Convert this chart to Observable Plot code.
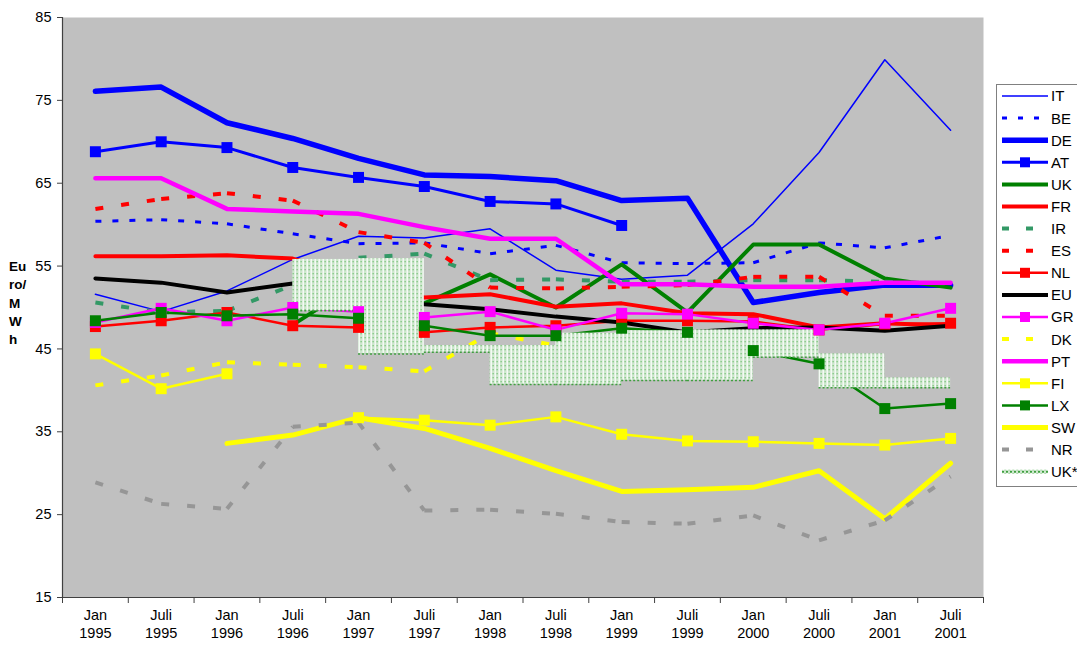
<!DOCTYPE html>
<html>
<head>
<meta charset="utf-8">
<script src="https://cdn.jsdelivr.net/npm/d3@7"></script>
<script src="https://cdn.jsdelivr.net/npm/@observablehq/plot@0.6"></script>
<style>
  body { margin: 0; background: #fff; }
  #chart { width: 1077px; height: 646px; font-family: "Liberation Sans", Arial, sans-serif; }
</style>
</head>
<body>
<div id="chart"></div>
<script>
// Half-yearly electricity prices, Euro/MWh
const categories = ["Jan 1995", "Juli 1995", "Jan 1996", "Juli 1996", "Jan 1997", "Juli 1997", "Jan 1998",
                    "Juli 1998", "Jan 1999", "Juli 1999", "Jan 2000", "Juli 2000", "Jan 2001", "Juli 2001"];
const yTicks = [15, 25, 35, 45, 55, 65, 75, 85];

const IT = [51.6, 49.5, 52.0, 55.8, 58.6, 58.4, 59.5, 54.5, 53.4, 53.9, 60.1, 68.7, 79.9, 71.4];
const BE = [60.4, 60.6, 60.1, 58.9, 57.7, 57.8, 56.5, 57.5, 55.4, 55.3, 55.4, 57.8, 57.2, 58.7];
const DE = [76.1, 76.6, 72.3, 70.4, 68.0, 66.0, 65.8, 65.3, 62.9, 63.2, 50.6, 51.8, 52.7, 52.7];
const AT = [68.8, 70.0, 69.3, 66.9, 65.7, 64.6, 62.8, 62.5, 59.9, null, null, null, null, null];
const UK = [null, null, null, 47.9, 53.0, 50.5, 54.0, 50.0, 55.2, 49.4, 57.6, 57.6, 53.5, 52.4];
const FR = [56.2, 56.2, 56.3, 55.9, 53.5, 51.2, 51.6, 50.1, 50.5, 49.3, 49.2, 47.6, 48.1, 47.8];
const IR = [50.6, 49.4, 49.6, 52.7, 56.0, 56.5, 53.3, 53.4, 53.1, 53.1, 53.3, 53.3, 53.1, 52.9];
const ES = [61.9, 63.1, 63.8, 62.9, 59.1, 57.8, 52.4, 52.3, 52.5, 52.7, 53.7, 53.7, 49.0, 49.0];
const NL = [47.7, 48.4, 49.4, 47.8, 47.6, 47.0, 47.6, 47.8, 48.4, 48.4, 48.3, 47.3, 48.0, 48.1];
const EU = [53.5, 53.0, 51.8, 52.9, 51.5, 50.4, 49.8, 48.9, 48.2, 47.0, 47.5, 47.6, 47.2, 47.8];
const GR = [48.2, 49.9, 48.4, 50.0, 49.5, 48.8, 49.5, 47.3, 49.3, 49.2, 48.1, 47.3, 48.1, 49.9];
const DK = [40.6, 41.8, 43.4, 43.1, 42.8, 42.3, 46.9, 45.4, null, null, null, null, null, null];
const PT = [65.6, 65.6, 61.9, 61.6, 61.3, 59.7, 58.3, 58.3, 52.8, 52.8, 52.5, 52.5, 53.0, 53.0];
const FI = [44.4, 40.2, 42.0, null, 36.7, 36.4, 35.8, 36.8, 34.7, 33.9, 33.8, 33.6, 33.4, 34.2];
const LX = [48.4, 49.4, 49.0, 49.2, 48.7, 47.8, 46.6, 46.6, 47.5, 47.0, 44.8, 43.2, 37.8, 38.4];
const SW = [null, null, 33.6, 34.6, 36.7, 35.4, 33.0, 30.3, 27.8, 28.0, 28.3, 30.3, 24.5, 31.2];
const NR = [28.9, 26.3, 25.7, 35.6, 36.1, 25.5, 25.6, 25.1, 24.1, 23.9, 24.9, 21.9, 24.3, 29.6];

// UK* band: each period runs from one half-year to the next
const ukStarPeriod = ["Juli 1996", "Jan 1997", "Juli 1997", "Jan 1998", "Juli 1998",
                      "Jan 1999", "Juli 1999", "Jan 2000", "Juli 2000", "Jan 2001"];
const ukStarHigh = [55.8, 55.9, 45.4, 45.4, 46.9, 47.2, 47.3, 47.3, 44.4, 41.5];
const ukStarLow  = [49.6, 44.4, 44.6, 40.7, 40.7, 41.2, 41.2, 44.0, 40.3, 40.3];

// Drawing style per series (legend order)
const seriesStyle = [
  {name: "IT", values: IT, color: "#0000FF", width: 1.5},
  {name: "BE", values: BE, color: "#0000FF", width: 3, dash: "6,11"},
  {name: "DE", values: DE, color: "#0000FF", width: 5.5},
  {name: "AT", values: AT, color: "#0000FF", width: 3, marker: true},
  {name: "UK", values: UK, color: "#008000", width: 4},
  {name: "FR", values: FR, color: "#FF0000", width: 4},
  {name: "IR", values: IR, color: "#339966", width: 4, dash: "8,18"},
  {name: "ES", values: ES, color: "#FF0000", width: 4, dash: "8,18"},
  {name: "NL", values: NL, color: "#FF0000", width: 2.5, marker: true},
  {name: "EU", values: EU, color: "#000000", width: 4},
  {name: "GR", values: GR, color: "#FF00FF", width: 2.5, marker: true},
  {name: "DK", values: DK, color: "#FFFF00", width: 4, dash: "8,18"},
  {name: "PT", values: PT, color: "#FF00FF", width: 4.5},
  {name: "FI", values: FI, color: "#FFFF00", width: 2.5, marker: true},
  {name: "LX", values: LX, color: "#008000", width: 2.5, marker: true},
  {name: "SW", values: SW, color: "#FFFF00", width: 5},
  {name: "NR", values: NR, color: "#969696", width: 4, dash: "8,18"}
];

const rowsOf = (s) => s.values.map((v, i) => ({i, v}));
const segmentsOf = (s) => {
  const segs = [];
  for (let i = 0; i + 1 < s.values.length; i++) {
    if (s.values[i] != null && s.values[i + 1] != null)
      segs.push({i1: i, v1: s.values[i], i2: i + 1, v2: s.values[i + 1]});
  }
  return segs;
};

const lineMarks = seriesStyle.map((s) => s.dash
  ? Plot.link(segmentsOf(s), {x1: "i1", y1: "v1", x2: "i2", y2: "v2", stroke: s.color,
      strokeWidth: s.width, strokeDasharray: s.dash, strokeLinecap: "butt"})
  : Plot.line(rowsOf(s), {x: "i", y: "v", stroke: s.color, strokeWidth: s.width, strokeLinejoin: "round"}));

const markerMarks = seriesStyle.filter((s) => s.marker).map((s) =>
  Plot.dot(rowsOf(s).filter((d) => d.v != null), {x: "i", y: "v", symbol: "square", r: 6.2, fill: s.color, stroke: null}));

const ukStarRows = ukStarPeriod.map((p, k) => {
  const i = categories.indexOf(p);
  return {i, i2: i + 1, high: ukStarHigh[k], low: ukStarLow[k]};
});

const svg = Plot.plot({
  width: 1077,
  height: 646,
  marginLeft: 62,
  marginRight: 94,
  marginTop: 17,
  marginBottom: 49,
  style: {fontFamily: "'Liberation Sans', Arial, sans-serif", fontSize: "14px", background: "white", color: "black"},
  x: {type: "linear", domain: [-0.5, categories.length - 0.5]},
  y: {domain: [15, 85]},
  marks: [
    Plot.frame({fill: "#C0C0C0", stroke: null}),
    ...lineMarks,
    Plot.rect(ukStarRows, {x1: "i", x2: "i2", y1: "low", y2: "high", fill: "url(#ukstar)"}),
    Plot.ruleY(ukStarRows, {y: "low", x1: "i", x2: "i2", stroke: "#3f9f3f", strokeWidth: 1.5, strokeDasharray: "2,2"}),
    ...markerMarks,
    Plot.ruleX([-0.5], {stroke: "#404040", strokeWidth: 1.2}),
    Plot.ruleY([15], {stroke: "#404040", strokeWidth: 1.2}),
    Plot.axisY({ticks: yTicks, tickSize: 5, tickPadding: 6, fontSize: 14.5, label: null, stroke: "#404040"}),
    Plot.axisX({ticks: d3.range(-0.5, categories.length, 1), tickSize: 6, tickFormat: () => "", label: null, stroke: "#404040"}),
    Plot.axisX({ticks: d3.range(categories.length), tickSize: 0, tickPadding: 10, label: null, fontSize: 14.5,
      lineHeight: 1.24, tickFormat: (i) => categories[i].replace(" ", "\n")})
  ]
});

// Dotted fill used by the UK* band
const root = d3.select(svg);
const pat = root.insert("defs", ":first-child").append("pattern")
  .attr("id", "ukstar").attr("patternUnits", "userSpaceOnUse").attr("width", 4).attr("height", 4);
pat.append("rect").attr("width", 4).attr("height", 4).attr("fill", "#cde6cd");
pat.append("rect").attr("x", 2.5).attr("width", 1.5).attr("height", 4).attr("fill", "#f4faf4");
pat.append("rect").attr("x", 0.5).attr("y", 1).attr("width", 1.3).attr("height", 1.3).attr("fill", "#80c680");

// Vertical y-axis title
const yTitle = root.append("text").attr("font-weight", "bold").attr("font-size", 13.5)
  .attr("text-anchor", "start").attr("font-family", "'Liberation Sans', Arial, sans-serif");
["Eu", "ro/", "M", "W", "h"].forEach((t, k) => {
  yTitle.append("tspan").attr("x", 9).attr("y", 271 + k * 18.3).text(t);
});

// Legend
const legend = root.append("g").attr("font-family", "'Liberation Sans', Arial, sans-serif")
  .attr("font-size", 15).attr("text-anchor", "start");
legend.append("rect").attr("x", 996.5).attr("y", 84.5).attr("width", 110).attr("height", 402)
  .attr("fill", "white").attr("stroke", "#808080");
const entries = [...seriesStyle, {name: "UK*", band: true}];
entries.forEach((s, k) => {
  const y = 96 + k * 22.1;
  if (s.band) {
    legend.append("rect").attr("x", 1002).attr("y", y - 2).attr("width", 46).attr("height", 4).attr("fill", "url(#ukstar)");
    legend.append("line").attr("x1", 1002).attr("x2", 1048).attr("y1", y).attr("y2", y)
      .attr("stroke", "#3f9f3f").attr("stroke-width", 2).attr("stroke-dasharray", "2,2");
  } else {
    legend.append("line").attr("x1", 1002).attr("x2", 1048).attr("y1", y).attr("y2", y)
      .attr("stroke", s.color).attr("stroke-width", s.width)
      .attr("stroke-dasharray", s.dash ? (s.dash === "6,11" ? "5,11" : "7,17") : null);
    if (s.marker) legend.append("rect").attr("x", 1020).attr("y", y - 5).attr("width", 10).attr("height", 10).attr("fill", s.color);
  }
  legend.append("text").attr("x", 1051).attr("y", y).attr("dy", "0.36em").text(s.name);
});

document.getElementById("chart").append(svg);
</script>
</body>
</html>
